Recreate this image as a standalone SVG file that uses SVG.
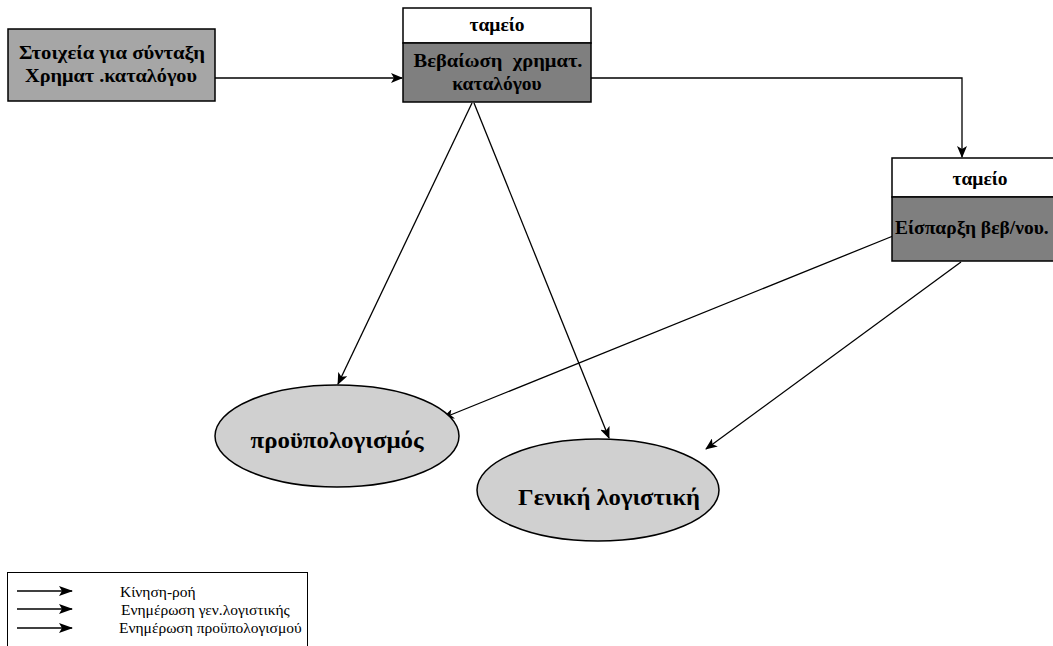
<svg xmlns="http://www.w3.org/2000/svg" width="1053" height="646" viewBox="0 0 1053 646">
  <style>
    .box { stroke: #000; stroke-width: 1.5; }
    .light { fill: #a6a6a6; }
    .dark { fill: #7f7f7f; }
    .head { fill: #fff; }
    .ell { fill: #d0d0d0; stroke: #000; stroke-width: 1.5; }
    .bt { font-family: "Liberation Serif", "DejaVu Serif", serif; font-weight: bold; font-size: 19.5px; fill: #000; text-anchor: middle; }
    .et { font-family: "Liberation Serif", "DejaVu Serif", serif; font-weight: bold; font-size: 24px; fill: #000; text-anchor: middle; }
    .lt { font-family: "Liberation Serif", "DejaVu Serif", serif; font-size: 15.5px; fill: #000; }
    .edge { fill: none; stroke: #000; stroke-width: 1.3; marker-end: url(#arr); }
    .key { fill: none; stroke: #000; stroke-width: 1.5; marker-end: url(#arrBig); }
  </style>
  <defs>
    <marker id="arr" viewBox="0 0 12 10" refX="11" refY="5" markerWidth="12" markerHeight="10" markerUnits="userSpaceOnUse" orient="auto">
      <path d="M0,0 L12,5 L0,10 L3,5 Z" fill="#000"/>
    </marker>
    <marker id="arrBig" viewBox="0 0 14 10" refX="13" refY="5" markerWidth="14" markerHeight="10" markerUnits="userSpaceOnUse" orient="auto">
      <path d="M0,0 L14,5 L0,10 L3,5 Z" fill="#000"/>
    </marker>
  </defs>

  <rect width="1053" height="646" fill="#fff"/>

  <g id="connectors">
    <line class="edge" x1="215" y1="78" x2="402" y2="78"/>
    <polyline class="edge" points="591,78 962,78 962,157"/>
    <line class="edge" x1="472" y1="103" x2="338" y2="384"/>
    <line class="edge" x1="474" y1="103" x2="609" y2="438"/>
    <line class="edge" x1="893" y1="236" x2="443" y2="418"/>
    <line class="edge" x1="961" y1="262" x2="706" y2="449"/>
  </g>

  <g id="node-stoixeia">
    <rect class="box light" x="8" y="29" width="207" height="72"/>
    <text class="bt" x="112" y="59" textLength="186" lengthAdjust="spacingAndGlyphs">Στοιχεία για σύνταξη</text>
    <text class="bt" x="111" y="82" textLength="172" lengthAdjust="spacingAndGlyphs">Χρηματ .καταλόγου</text>
  </g>

  <g id="node-vevaiosi">
    <rect class="box head" x="403" y="8" width="188" height="35"/>
    <rect class="box dark" x="403" y="43" width="188" height="59"/>
    <text class="bt" x="497" y="31">ταμείο</text>
    <text class="bt" x="498" y="67" xml:space="preserve" textLength="169" lengthAdjust="spacingAndGlyphs">Βεβαίωση  χρηματ.</text>
    <text class="bt" x="497" y="90">καταλόγου</text>
  </g>

  <g id="node-eisparxi">
    <rect class="box head" x="892" y="158" width="176" height="39"/>
    <rect class="box dark" x="892" y="197" width="176" height="64"/>
    <text class="bt" x="980" y="185">ταμείο</text>
    <text class="bt" x="895" y="234" style="text-anchor:start">Είσπαρξη βεβ/νου.</text>
  </g>

  <g id="node-proypologismos">
    <ellipse class="ell" cx="337" cy="436" rx="122" ry="51"/>
    <text class="et" x="337" y="448" textLength="173" lengthAdjust="spacingAndGlyphs">προϋπολογισμός</text>
  </g>

  <g id="node-geniki">
    <ellipse class="ell" cx="598" cy="490" rx="121" ry="51"/>
    <text class="et" x="609" y="505" textLength="182" lengthAdjust="spacingAndGlyphs">Γενική λογιστική</text>
  </g>

  <g id="legend">
    <rect x="7.5" y="572.5" width="300" height="80" fill="#fff" stroke="#000" stroke-width="1"/>
    <line class="key" x1="17" y1="591" x2="72" y2="591"/>
    <line class="key" x1="17" y1="609" x2="72" y2="609"/>
    <line class="key" x1="17" y1="628" x2="72" y2="628"/>
    <text class="lt" x="120" y="597">Κίνηση-ροή</text>
    <text class="lt" x="121" y="615">Ενημέρωση γεν.λογιστικής</text>
    <text class="lt" x="119" y="633">Ενημέρωση προϋπολογισμού</text>
  </g>
</svg>
